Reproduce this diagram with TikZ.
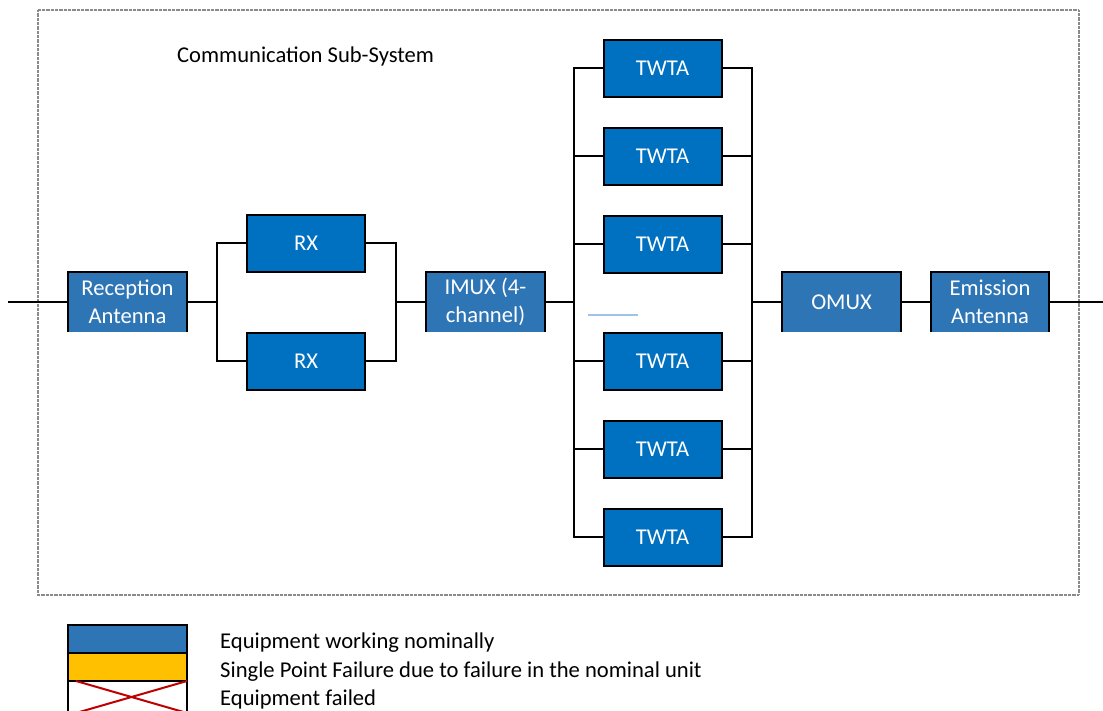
\documentclass[tikz,border=0pt]{standalone}
\usepackage{fontspec}
\setmainfont{Carlito}
\definecolor{unitblue}{HTML}{2E75B6}
\definecolor{boxblue}{HTML}{0070C0}
\definecolor{spfyellow}{HTML}{FFC000}
\definecolor{failred}{HTML}{C00000}
\definecolor{framegray}{HTML}{8A8A8A}
\definecolor{paleblue}{HTML}{9DC3E6}
\newcommand{\lblfont}{\fontsize{22.6}{28}\selectfont}
\tikzset{
  wire/.style={line width=2pt, line join=miter},
  unitbox/.style={draw=black, line width=2pt, fill=boxblue, text=white,
    minimum width=118pt, minimum height=57pt, inner sep=0pt, font=\lblfont},
  openbox/.style={fill=unitblue, text=white, minimum width=118pt,
    minimum height=60pt, inner sep=0pt, align=center, font=\lblfont},
  legtext/.style={anchor=base west, inner sep=0pt, font=\lblfont},
}
\newcommand{\openframe}[1]{%
  \draw[wire] (#1.south west) -- (#1.north west) -- (#1.north east) -- (#1.south east);}
\begin{document}
\begin{tikzpicture}[x=1pt,y=-1pt]
\useasboundingbox (0,0) rectangle (1103,711);

% system frame
\draw[framegray, line width=1.8pt, dash pattern=on 1pt off 0.3pt] (38,10) rectangle (1079,595);
\node[anchor=base west, inner sep=0pt, font=\lblfont] (title) at (177,63) {Communication Sub-System};

% equipment blocks
\node[openbox] (rec) at (127.5,302) {Reception\\Antenna};
\openframe{rec}
\node[unitbox] (rx1) at (306,243.5) {RX};
\node[unitbox] (rx2) at (306,361) {RX};
\node[openbox] (imux) at (485.5,302) {IMUX (4-\\channel)};
\openframe{imux}
\node[unitbox] (t1) at (662.5,68.5) {TWTA};
\node[unitbox] (t2) at (662.5,156.5) {TWTA};
\node[unitbox] (t3) at (662.5,244.5) {TWTA};
\node[unitbox] (t4) at (662.5,361) {TWTA};
\node[unitbox] (t5) at (662.5,449) {TWTA};
\node[unitbox] (t6) at (662.5,537) {TWTA};
\node[openbox] (omux) at (841.5,302) {OMUX};
\openframe{omux}
\node[openbox] (emi) at (990,302) {Emission\\Antenna};
\openframe{emi}

% junction points
\coordinate (in) at (8,302);
\coordinate (out) at (1103,302);
\coordinate (s1) at (216.5,302);
\coordinate (j1) at (395.5,302);
\coordinate (s2) at (573.5,302);
\coordinate (j2) at (752,302);
\coordinate (m1) at (588,315);
\coordinate (m2) at (638,315);

% connections
\draw[wire] (in) -- (rec.west);
\draw[wire] (rec.east) -- (s1);
\draw[wire] (rx1.west) -| (s1) |- (rx2.west);
\draw[wire] (rx1.east) -| (j1) |- (rx2.east);
\draw[wire] (j1) -- (imux.west);
\draw[wire] (imux.east) -- (s2);
\draw[wire] (t1.west) -| (s2) |- (t6.west);
\foreach \t in {t2,t3,t4,t5} \draw[wire] (s2 |- \t.west) -- (\t.west);
\draw[wire] (t1.east) -| (j2) |- (t6.east);
\foreach \t in {t2,t3,t4,t5} \draw[wire] (\t.east) -- (j2 |- \t.east);
\draw[wire] (j2) -- (omux.west);
\draw[wire] (omux.east) -- (emi.west);
\draw[wire] (emi.east) -- (out);
\draw[paleblue, line width=1.2pt] (m1) -- (m2);

% legend
\draw[wire, fill=unitblue] (68,625) rectangle (187,653);
\draw[wire, fill=spfyellow] (68,653) rectangle (187,681);
\draw[wire, fill=white] (68,681) rectangle (187,713);
\draw[failred, line width=2pt] (76,681) -- (187,713) (187,681) -- (76,713);
\node[legtext] (l1) at (220,648) {Equipment working nominally};
\node[legtext] (l2) at (220,677) {Single Point Failure due to failure in the nominal unit};
\node[legtext] (l3) at (220,705) {Equipment failed};
\end{tikzpicture}
\end{document}
